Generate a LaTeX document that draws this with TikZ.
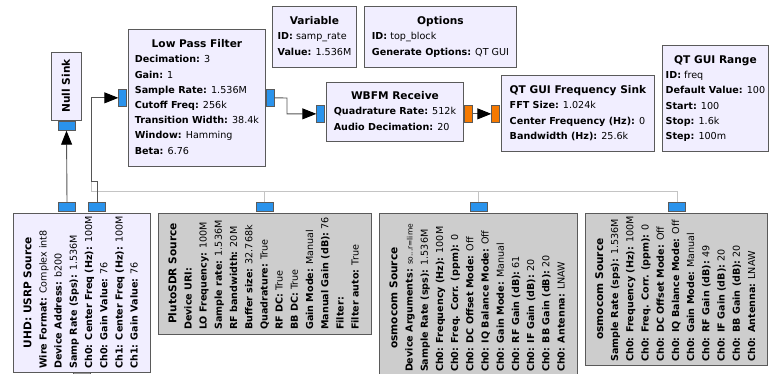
\documentclass[tikz,border=0pt]{standalone}
\usepackage{fontspec}
\setmainfont{DejaVu Sans}
\usetikzlibrary{arrows.meta}
\definecolor{blkfill}{HTML}{F1EEFF}
\definecolor{disfill}{HTML}{CDCDCD}
\definecolor{bordercol}{HTML}{5A5A5A}
\definecolor{portblue}{HTML}{2A93EC}
\definecolor{portorange}{HTML}{F57900}
\definecolor{portgray}{HTML}{9A9A9A}
\definecolor{wirecol}{HTML}{555555}
\definecolor{dwirecol}{HTML}{C4C4C4}
\newcommand{\ttlfont}{\fontsize{10.6}{15.2}\selectfont\bfseries}
\newcommand{\kv}[2]{\textbf{#1:} #2}
\newcommand{\blktext}[2]{\fontsize{9.6}{15.2}\selectfont\begin{tabular}{@{}l@{}}\multicolumn{1}{@{}c@{}}{\ttlfont #1}\\ #2\end{tabular}}
\tikzset{
  blk/.style={draw=bordercol, fill=blkfill, line width=0.9pt, inner sep=0pt},
  disblk/.style={blk, fill=disfill},
  portb/.style={draw=bordercol, fill=portblue, line width=0.7pt, inner sep=0pt},
  porto/.style={portb, fill=portorange},
  portg/.style={portb, fill=portgray},
  hport/.style={minimum width=8pt, minimum height=17pt},
  vport/.style={minimum width=17pt, minimum height=9pt},
  wire/.style={draw=wirecol, line width=0.9pt},
  dwire/.style={draw=dwirecol, line width=0.9pt},
  arr/.style={-{Triangle[length=14pt,width=11pt,color=black]}}
}
\begin{document}
\begin{tikzpicture}[x=1pt,y=-1pt]
\useasboundingbox (0,0) rectangle (769,374);
\fill[white] (0,0) rectangle (769,374);

% Null Sink
\node[blk, rotate=90, minimum width=68pt, minimum height=30pt] (nullsink) at (66,86) {\ttlfont Null Sink};
\node[portb, vport, anchor=north] (nullP) at (66.5,121) {};

% Low Pass Filter
\node[blk, minimum width=137pt, minimum height=137pt, anchor=north west] (lpf) at (128,29)
 {\blktext{Low Pass Filter}{\kv{Decimation}{3}\\ \kv{Gain}{1}\\ \kv{Sample Rate}{1.536M}\\ \kv{Cutoff Freq}{256k}\\ \kv{Transition Width}{38.4k}\\ \kv{Window}{Hamming}\\ \kv{Beta}{6.76}}};
\node[portb, hport, anchor=north east] (lpfIn) at (127,89) {};
\node[portb, hport, anchor=north west] (lpfOut) at (266,89) {};

% Variable
\node[blk, minimum width=84pt, minimum height=61pt, anchor=north west] (var) at (272,6)
 {\blktext{Variable}{\kv{ID}{samp\_rate}\\ \kv{Value}{1.536M}}};

% Options
\node[blk, minimum width=152pt, minimum height=61pt, anchor=north west] (opt) at (364,6)
 {\blktext{Options}{\kv{ID}{top\_block}\\ \kv{Generate Options}{QT GUI}}};

% WBFM Receive
\node[blk, minimum width=137pt, minimum height=59pt, anchor=north west] (wbfm) at (326,82)
 {\blktext{WBFM Receive}{\kv{Quadrature Rate}{512k}\\ \kv{Audio Decimation}{20}}};
\node[portb, hport, anchor=north east] (wbfmIn) at (325,105) {};
\node[porto, hport, anchor=north west] (wbfmOut) at (464,105) {};

% QT GUI Frequency Sink
\node[blk, minimum width=153pt, minimum height=76pt, anchor=north west] (fsink) at (501,75)
 {\blktext{QT GUI Frequency Sink}{\kv{FFT Size}{1.024k}\\ \kv{Center Frequency (Hz)}{0}\\ \kv{Bandwidth (Hz)}{25.6k}}};
\node[porto, hport, anchor=north east] (fsinkIn) at (500,105) {};

% QT GUI Range
\node[blk, minimum width=106pt, minimum height=106pt, anchor=north west] (range) at (662,45)
 {\blktext{QT GUI Range}{\kv{ID}{freq}\\ \kv{Default Value}{100}\\ \kv{Start}{100}\\ \kv{Stop}{1.6k}\\ \kv{Step}{100m}}};

% UHD: USRP Source
\node[blk, rotate=90, minimum width=159pt, minimum height=137pt] (usrp) at (81.5,292.5)
 {\blktext{UHD: USRP Source}{\kv{Wire Format}{Complex int8}\\ \kv{Device Address}{b200}\\ \kv{Samp Rate (Sps)}{1.536M}\\ \kv{Ch0: Center Freq (Hz)}{100M}\\ \kv{Ch0: Gain Value}{76}\\ \kv{Ch1: Center Freq (Hz)}{100M}\\ \kv{Ch1: Gain Value}{76}}};
\node[portb, vport, anchor=south] (usrpP1) at (67,212) {};
\node[portb, vport, anchor=south] (usrpP2) at (97,212) {};
\node[portg, vport, anchor=north] (usrpP3) at (81.5,372) {};

% PlutoSDR Source (disabled)
\node[disblk, rotate=90, minimum width=121pt, minimum height=213pt] (pluto) at (264.5,273.5)
 {\blktext{PlutoSDR Source}{\kv{Device URI}{}\\ \kv{LO Frequency}{100M}\\ \kv{Sample rate}{1.536M}\\ \kv{RF bandwidth}{20M}\\ \kv{Buffer size}{32.768k}\\ \kv{Quadrature}{True}\\ \kv{RF DC}{True}\\ \kv{BB DC}{True}\\ \kv{Gain Mode}{Manual}\\ \kv{Manual Gain (dB)}{76}\\ \kv{Filter}{}\\ \kv{Filter auto}{True}}};
\node[portb, vport, anchor=south] (plutoP) at (264.5,212) {};

% osmocom Source 1 (disabled)
\node[disblk, rotate=90, minimum width=170pt, minimum height=198pt] (osmo1) at (478,298)
 {\blktext{osmocom Source}{\kv{Device Arguments}{{\fontsize{7.5}{9}\selectfont so...r=lime}}\\ \kv{Sample Rate (sps)}{1.536M}\\ \kv{Ch0: Frequency (Hz)}{100M}\\ \kv{Ch0: Freq. Corr. (ppm)}{0}\\ \kv{Ch0: DC Offset Mode}{Off}\\ \kv{Ch0: IQ Balance Mode}{Off}\\ \kv{Ch0: Gain Mode}{Manual}\\ \kv{Ch0: RF Gain (dB)}{61}\\ \kv{Ch0: IF Gain (dB)}{20}\\ \kv{Ch0: BB Gain (dB)}{20}\\ \kv{Ch0: Antenna}{LNAW}}};
\node[portb, vport, anchor=south] (osmo1P) at (478.5,212) {};

% osmocom Source 2 (disabled)
\node[disblk, rotate=90, minimum width=152pt, minimum height=182pt] (osmo2) at (676,289)
 {\blktext{osmocom Source}{\kv{Sample Rate (sps)}{1.536M}\\ \kv{Ch0: Frequency (Hz)}{100M}\\ \kv{Ch0: Freq. Corr. (ppm)}{0}\\ \kv{Ch0: DC Offset Mode}{Off}\\ \kv{Ch0: IQ Balance Mode}{Off}\\ \kv{Ch0: Gain Mode}{Manual}\\ \kv{Ch0: RF Gain (dB)}{49}\\ \kv{Ch0: IF Gain (dB)}{20}\\ \kv{Ch0: BB Gain (dB)}{20}\\ \kv{Ch0: Antenna}{LNAW}}};
\node[portb, vport, anchor=south] (osmo2P) at (677,212) {};

% junctions
\coordinate (j1) at (91,181);
\coordinate (j2) at (91,191);
\coordinate (k1) at (287,98);

% disabled connections
\draw[dwire] (plutoP.north) |- (j2) -- (j1);
\draw[dwire] (osmo1P.north) -- (osmo1P.north |- j2);
\draw[dwire] (osmo2P.north) |- (j2);

% enabled connections
\draw[wire, arr] (usrpP1.north) -- (nullP.south);
\draw[wire, arr] (usrpP2.north) |- (j1) |- (lpfIn.west);
\draw[wire, arr] (lpfOut.east) -- (k1) |- (wbfmIn.west);
\draw[wire, arr] (wbfmOut.east) -- (fsinkIn.west);
\end{tikzpicture}
\end{document}
